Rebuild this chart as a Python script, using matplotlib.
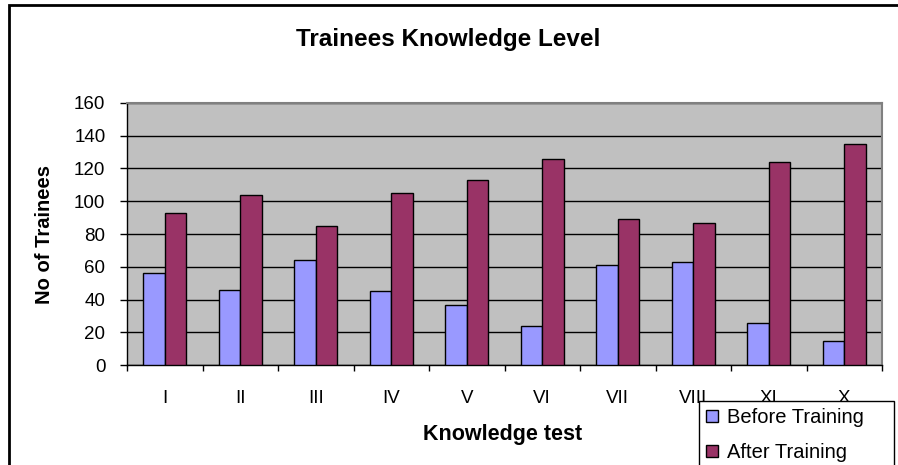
import matplotlib
matplotlib.use("Agg")
import matplotlib.pyplot as plt
import numpy as np
from matplotlib.patches import Patch, Rectangle

plt.rcParams['font.family'] = ['Liberation Sans', 'DejaVu Sans']

categories = ["I", "II", "III", "IV", "V", "VI", "VII", "VIII", "XI", "X"]
before = [56, 46, 64, 45, 37, 24, 61, 63, 26, 15]
after = [93, 104, 85, 105, 113, 126, 89, 87, 124, 135]
yticks = [0, 20, 40, 60, 80, 100, 120, 140, 160]

W, H = 898, 465
fig = plt.figure(figsize=(W / 100, H / 100), dpi=100)
fig.patch.set_facecolor("white")

# outer chart border (right and bottom edges fall outside the picture)
fig.add_artist(Rectangle((9 / W, -0.1), 1.2, 1.1 - 5 / H,
                         transform=fig.transFigure, fill=False,
                         edgecolor="black", linewidth=2))

L, R, T, B = 127, 882, 102.7, 365.3
ax = fig.add_axes([L / W, 1 - B / H, (R - L) / W, (B - T) / H])
ax.set_facecolor("#C0C0C0")

x = np.arange(len(categories))
bw = 0.285
ax.bar(x - bw / 2, before, bw, color="#9999FF", edgecolor="black", linewidth=1, zorder=3)
ax.bar(x + bw / 2, after, bw, color="#993366", edgecolor="black", linewidth=1, zorder=3)

ax.set_xlim(-0.5, len(categories) - 0.5)
ax.set_ylim(0, 160)
ax.set_yticks(yticks)
ax.yaxis.grid(True, color="black", linewidth=1, zorder=1)
ax.set_axisbelow(True)

ax.set_xticks(np.arange(len(categories) + 1) - 0.5)
ax.set_xticklabels([])
ax.set_xticks(x, minor=True)
ax.set_xticklabels(categories, minor=True, fontsize=13.5)
ax.tick_params(axis="x", which="major", direction="out", length=4.5, width=1)
ax.tick_params(axis="x", which="minor", length=0, pad=17.5)
ax.tick_params(axis="y", direction="out", length=5, width=1, labelsize=13.5, pad=10.5)

for s in ["top", "right"]:
    ax.spines[s].set_color("#808080")
    ax.spines[s].set_linewidth(1.5)
for s in ["left", "bottom"]:
    ax.spines[s].set_color("black")
    ax.spines[s].set_linewidth(1)

fig.text(448 / W, 1 - 46 / H, "Trainees Knowledge Level", ha="center", va="baseline",
         fontsize=17.5, fontweight="bold")
fig.text(503 / W, 1 - 440 / H, "Knowledge test", ha="center", va="baseline",
         fontsize=15.5, fontweight="bold")
fig.text(45 / W, 1 - (B + T) / 2 / H, "No of Trainees", ha="center", va="center",
         rotation=90, fontsize=14.5, fontweight="bold")

# legend box (bottom part cut off by the picture edge)
lx0, lx1, ly0 = 699, 894, 401
fig.add_artist(Rectangle((lx0 / W, -0.1), (lx1 - lx0) / W, 1.1 - ly0 / H,
                         transform=fig.transFigure, facecolor="white",
                         edgecolor="black", linewidth=1, zorder=4))
handles = [Patch(facecolor="#9999FF", edgecolor="black"),
           Patch(facecolor="#993366", edgecolor="black")]
leg = fig.legend(handles, ["Before Training", "After Training"], loc="upper left",
                 bbox_to_anchor=(lx0 / W, 1 - ly0 / H), fontsize=14.5, frameon=False,
                 handlelength=0.6, handleheight=0.6, handletextpad=0.45,
                 borderaxespad=0, borderpad=0.35, labelspacing=0.8)
leg.set_zorder(5)

fig.savefig("out.png", dpi=100)
